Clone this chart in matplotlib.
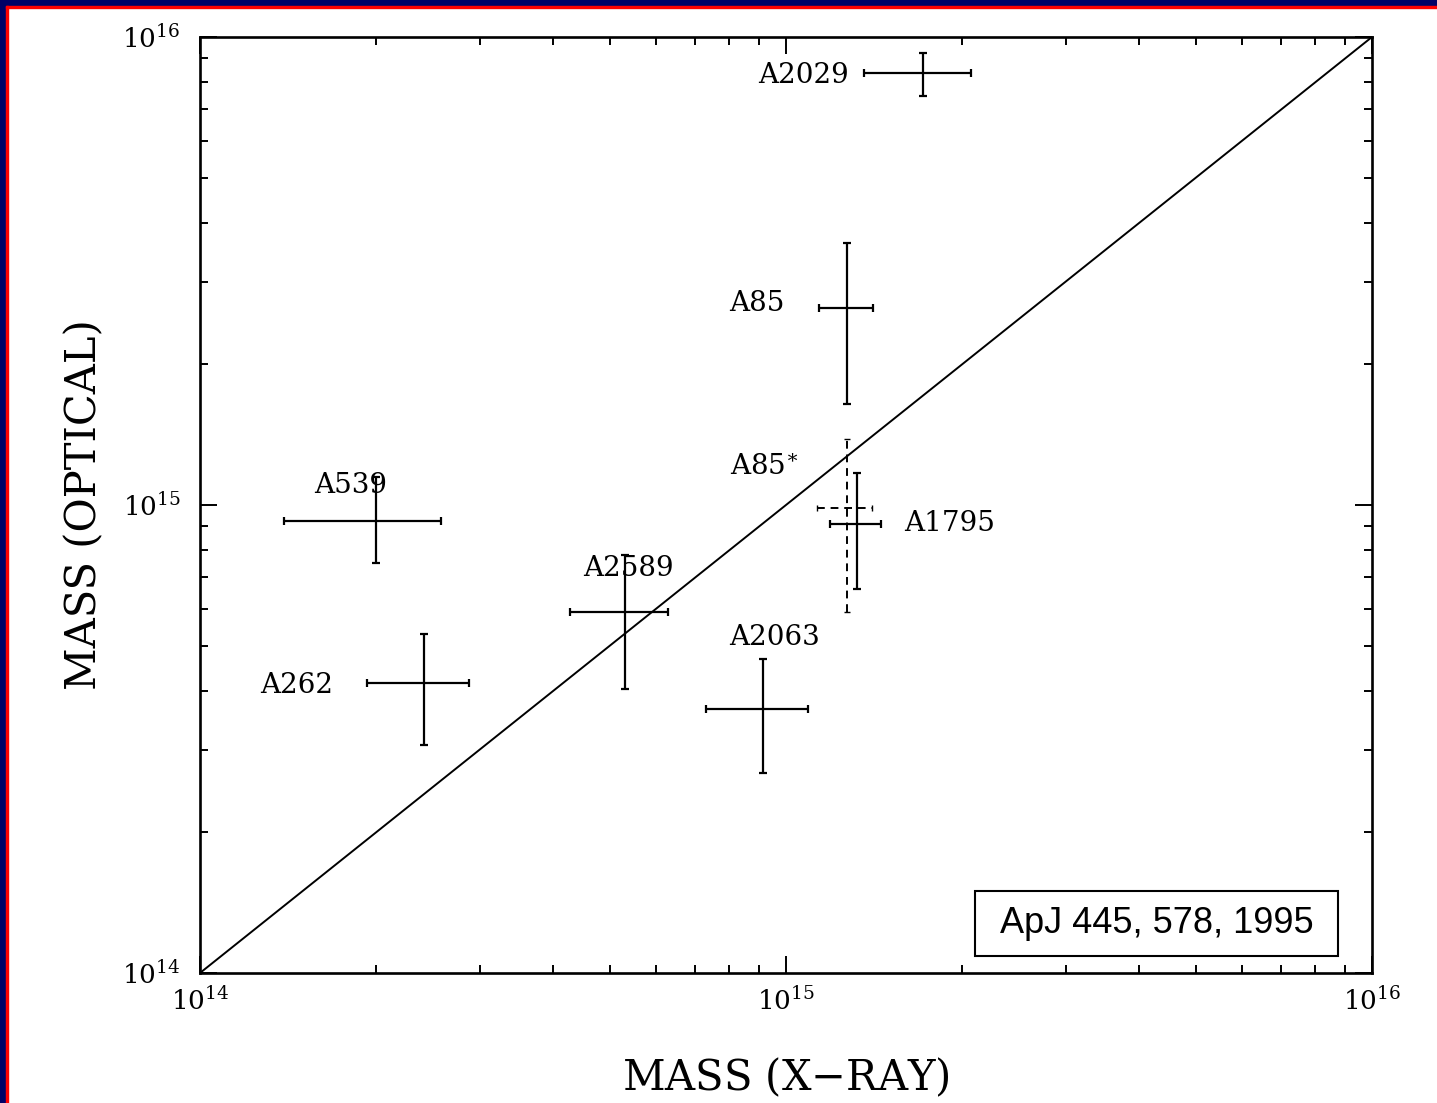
"""Optical vs X-ray cluster masses (ApJ 445, 578, 1995) -- log-log comparison with 1:1 line."""
import numpy as np
import matplotlib; matplotlib.use("Agg"); import matplotlib.pyplot as plt
from matplotlib.patches import Rectangle

plt.rcParams["font.family"] = ["DejaVu Serif"]
plt.rcParams["mathtext.fontset"] = "dejavuserif"
NAVY, RED = "#000066", "#ff0000"

# cluster masses (Msun): x = X-ray, y = optical, with lower/upper error bar ends
names  = ["A2029", "A85", "A1795", "A539", "A2589", "A262", "A2063"]
mx     = [1.71e15, 1.27e15, 1.32e15, 2.00e14, 5.31e14, 2.41e14, 9.14e14]
mx_lo  = [1.36e15, 1.14e15, 1.19e15, 1.39e14, 4.28e14, 1.93e14, 7.30e14]
mx_hi  = [2.07e15, 1.41e15, 1.45e15, 2.58e14, 6.29e14, 2.88e14, 1.09e15]
my     = [8.38e15, 2.64e15, 9.10e14, 9.24e14, 5.91e14, 4.17e14, 3.66e14]
my_lo  = [7.48e15, 1.64e15, 6.62e14, 7.52e14, 4.04e14, 3.07e14, 2.68e14]
my_hi  = [9.24e15, 3.63e15, 1.17e15, 1.15e15, 7.82e14, 5.30e14, 4.69e14]
lab_x  = [1.07e15, 8.92e14, 1.90e15, 1.81e14, 5.38e14, 1.46e14, 9.54e14]
lab_y  = [8.29e15, 2.69e15, 9.15e14, 1.10e15, 7.30e14, 4.12e14, 5.20e14]

# A85* (alternative estimate, dashed)
star_x, star_xlo, star_xhi = 1.27e15, 1.13e15, 1.40e15
star_y, star_ylo, star_yhi = 9.86e14, 5.91e14, 1.38e15
star_lab = (8.02e14, 1.21e15)

fig = plt.figure(figsize=(14.37, 11.03), dpi=100)
ax = fig.add_axes([0.1392, 0.1179, 0.8156, 0.8486])

mx, my = np.array(mx), np.array(my)
xerr = [mx - np.array(mx_lo), np.array(mx_hi) - mx]
yerr = [my - np.array(my_lo), np.array(my_hi) - my]
ax.errorbar(mx, my, xerr=xerr, yerr=yerr, fmt="none", ecolor="black",
            elinewidth=1.6, capsize=3, capthick=1.6)
eb = ax.errorbar([star_x], [star_y], xerr=[[star_x - star_xlo], [star_xhi - star_x]],
                 yerr=[[star_y - star_ylo], [star_yhi - star_y]], fmt="none",
                 ecolor="black", elinewidth=1.4, capsize=2, capthick=1.0)
for lc in eb.lines[2]: lc.set_linestyle((0, (4, 3)))

for n, x, y in zip(names, lab_x, lab_y):
    ax.text(x, y, n, ha="center", va="center", fontsize=20)
ax.text(star_lab[0], star_lab[1], "A85$^{\\ast}$", ha="left", va="center", fontsize=20)

ax.plot([1e14, 1e16], [1e14, 1e16], color="black", lw=1.4)

ax.set_xscale("log"); ax.set_yscale("log")
ax.set_xlim(1e14, 1e16); ax.set_ylim(1e14, 1e16)
ax.tick_params(which="both", direction="in", top=True, right=True, width=1.4, labelsize=19)
ax.tick_params(which="major", length=12)
ax.tick_params(which="minor", length=6)
ax.tick_params(axis="x", which="major", pad=10)
ax.tick_params(axis="y", which="major", pad=14)
for s in ax.spines.values(): s.set_linewidth(1.9)
ax.set_xlabel("MASS (X$-$RAY)", fontsize=30, labelpad=30)
ax.set_ylabel("MASS (OPTICAL)", fontsize=30, labelpad=12)

# reference box
ax.add_patch(Rectangle((0.661, 0.018), 0.310, 0.0696, transform=ax.transAxes,
                       fill=False, ec="black", lw=1.5, zorder=5))
ax.text(0.816, 0.053, "ApJ 445, 578, 1995", transform=ax.transAxes, ha="center",
        va="center", fontsize=26, family="Liberation Sans", zorder=6)

# slide frame: navy band with thin red line, top and left edges
fig.patches += [Rectangle((0, 1 - 6/1103), 1, 6/1103, transform=fig.transFigure, color=NAVY),
                Rectangle((0, 0), 6/1437, 1, transform=fig.transFigure, color=NAVY),
                Rectangle((6/1437, 1 - 8/1103), 1, 2/1103, transform=fig.transFigure, color=RED),
                Rectangle((6/1437, 0), 2/1437, 1 - 6/1103, transform=fig.transFigure, color=RED)]

fig.savefig("out.png", dpi=100)
